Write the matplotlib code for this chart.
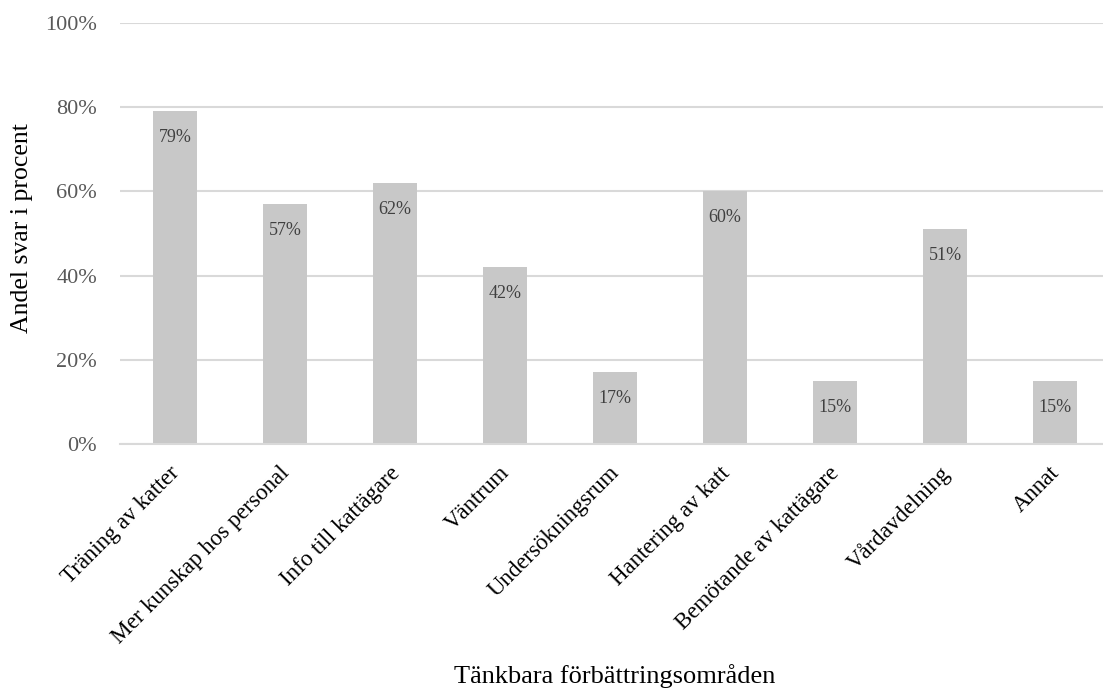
import matplotlib
matplotlib.use("Agg")
import matplotlib.pyplot as plt
import matplotlib.transforms as mtransforms
from matplotlib.ticker import PercentFormatter

plt.rcParams["font.family"] = ["Liberation Serif", "DejaVu Serif"]

categories = [
    "Träning av katter",
    "Mer kunskap hos personal",
    "Info till kattägare",
    "Väntrum",
    "Undersökningsrum",
    "Hantering av katt",
    "Bemötande av kattägare",
    "Vårdavdelning",
    "Annat",
]
values = [79, 57, 62, 42, 17, 60, 15, 51, 15]
y_ticks = [0, 20, 40, 60, 80, 100]

W, H = 1103, 695
fig = plt.figure(figsize=(W / 100, H / 100), dpi=100)
ax = fig.add_axes([120 / W, 251 / H, 990 / W, 421 / H])

x = range(len(categories))
ax.bar(x, values, width=0.4, color="#c8c8c8", zorder=2)
for xi, v in zip(x, values):
    ax.annotate(f"{v}%", (xi, v), xytext=(0, -19), textcoords="offset points",
                ha="center", va="center", fontsize=13, color="#404040")

ax.set_xlim(-0.5, len(categories) - 0.5)
ax.set_ylim(0, 100)
ax.set_yticks(y_ticks)
ax.yaxis.set_major_formatter(PercentFormatter(decimals=0))
ax.grid(axis="y", color="#d9d9d9", linewidth=1.5, zorder=0)
for s in ["top", "right", "left"]:
    ax.spines[s].set_visible(False)
ax.spines["bottom"].set_color("#d9d9d9")
ax.spines["bottom"].set_linewidth(1.5)
ax.tick_params(axis="y", length=0, pad=16.5, labelsize=16, labelcolor="#595959")
ax.tick_params(axis="x", length=0, pad=9, labelsize=16.5)
ax.set_xticks(list(x))
ax.set_xticklabels(categories, rotation=45, ha="right", rotation_mode="anchor")

# nudge rotated labels down-left along their baseline
shift = mtransforms.ScaledTranslation(-6 / 100, -6 / 100, fig.dpi_scale_trans)
for lbl in ax.get_xticklabels():
    lbl.set_transform(lbl.get_transform() + shift)

fig.text(615 / W, 1 - 676 / H, "Tänkbara förbättringsområden",
         ha="center", va="center", fontsize=19)
fig.text(22 / W, 1 - 228 / H, "Andel svar i procent", rotation=90,
         ha="center", va="center", fontsize=18.5)

fig.savefig("out.png", dpi=100, facecolor="white")
